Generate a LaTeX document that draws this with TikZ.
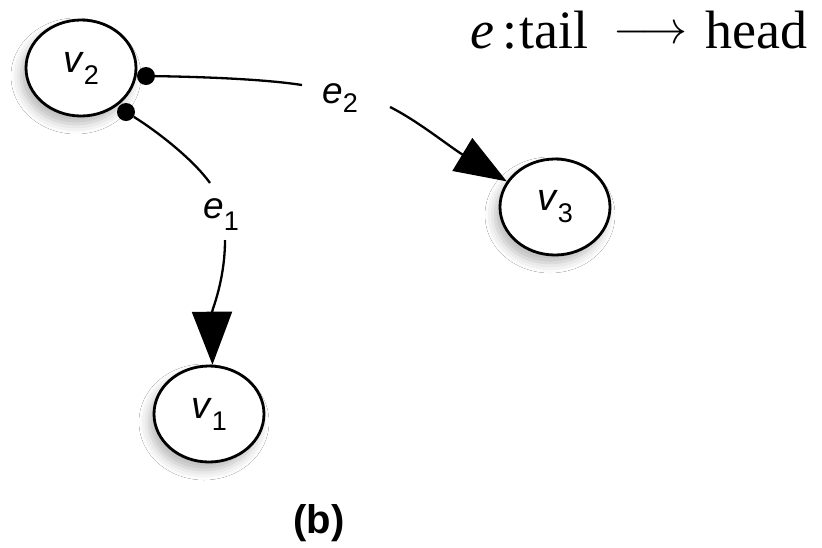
\documentclass[tikz,border=0pt]{standalone}
\usepackage{fontspec}
\setmainfont{Liberation Serif}
\setsansfont{Liberation Sans}
\usetikzlibrary{arrows.meta,calc,shapes.geometric,shadows.blur}
\tikzset{
  vertex/.style={ellipse, draw=black, line width=2.8pt, fill=white,
    minimum width=110pt, minimum height=96pt, inner sep=0pt,
    blur shadow={shadow xshift=-5pt, shadow yshift=-8pt, shadow blur radius=10pt, shadow opacity=28},
    font=\sffamily\fontsize{38}{42}\selectfont},
  taildot/.style={circle, fill=black, minimum size=18pt, inner sep=0pt},
  elabel/.style={inner sep=0pt, font=\sffamily\fontsize{37}{41}\selectfont},
  edge/.style={line width=2.3pt, black},
  bigtip/.style={-{Triangle[length=52pt,width=38pt]}},
  titletext/.style={anchor=base west, inner sep=0pt, font=\fontsize{54}{60}\selectfont}
}
\newcommand{\vlab}[1]{\textit{v}\raisebox{-12pt}{\fontsize{27}{30}\selectfont #1}}
\newcommand{\elab}[2]{\textit{e}\raisebox{-#2pt}{\fontsize{27}{30}\selectfont #1}}
\begin{document}
\begin{tikzpicture}[x=1pt,y=-1pt]
\fill[white] (0,0) rectangle (822,547);
\useasboundingbox (0,0) rectangle (822,547);

% vertices
\node[vertex] (v2) at (81,68) {\vlab{2}};
\node[vertex] (v1) at (209,414) {\vlab{1}};
\node[vertex] (v3) at (555,207) {\vlab{3}};

% tail dots
\node[taildot] (t2) at (146,76) {};
\node[taildot] (t1) at (126,112) {};

% edge labels
\node[elabel] (l2) at (340,98) {\elab{2}{9}};
\node[elabel] (l1) at (221,215) {\elab{1}{12}};

% edge e2
\draw[edge] (t2) .. controls (215,77) and (270,80) .. ($(l2)+(-38,-13)$);
\draw[edge,bigtip] ($(l2)+(50,9)$) .. controls (418,121) and (450,147) .. (v3.152);

% edge e1
\draw[edge] (t1) .. controls (155,130) and (192,158) .. ($(l1)+(-11,-32)$);
\draw[edge,-{Triangle[length=53pt,width=40pt]}] ($(l1)+(4,25)$) .. controls (225,280) and (212,310) .. (v1.86);

% title
\node[titletext] (te) at (470,48) {\textit{e}};
\node[titletext] (tc) at (502,48) {:};
\node[titletext] (tt) at (519,48) {tail};
\node[titletext] (ta) at (613,43.5) {\scalebox{4.6}{\normalsize$\longrightarrow$}};
\node[titletext] (th) at (705,48) {head};

% caption
\node[inner sep=0pt, font=\sffamily\bfseries\fontsize{40}{44}\selectfont] (cap) at (319,523) {(b)};
\end{tikzpicture}
\end{document}
